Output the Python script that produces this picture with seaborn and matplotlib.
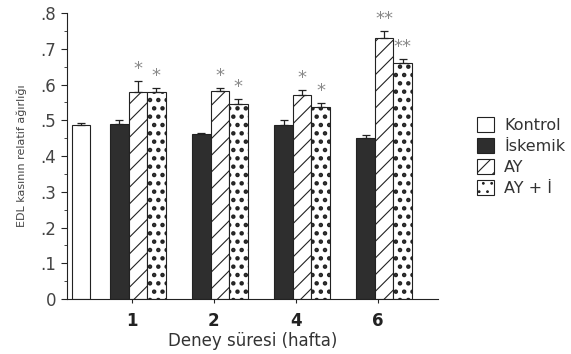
import pandas as pd
import numpy as np
import matplotlib
matplotlib.use('Agg')
import matplotlib.pyplot as plt
import seaborn as sns
from matplotlib.patches import Patch
from matplotlib.ticker import MultipleLocator, FixedLocator

# data
weeks = ['1', '2', '4', '6']
groups = ['Kontrol', 'İskemik', 'AY', 'AY + İ']
kontrol_val = 0.486
kontrol_err = 0.008
iskemik = [0.490, 0.463, 0.488, 0.450]
iskemik_err = [0.010, 0.002, 0.014, 0.010]
ay = [0.578, 0.582, 0.570, 0.730]
ay_err = [0.033, 0.008, 0.014, 0.021]
ay_i = [0.578, 0.547, 0.536, 0.660]
ay_i_err = [0.012, 0.012, 0.012, 0.011]
stars_ay = ['*', '*', '*', '**']
stars_ay_i = ['*', '*', '*', '**']
ytick_labels = ['0', '.1', '.2', '.3', '.4', '.5', '.6', '.7', '.8']

# layout: week groups one unit apart, Kontrol sits alone before them
offsets = {'İskemik': -0.15, 'AY': 0.075, 'AY + İ': 0.30}
rows = [{'pos': 0.38, 'group': 'Kontrol', 'value': kontrol_val, 'err': kontrol_err, 'star': ''}]
for i, w in enumerate(weeks):
    c = i + 1
    rows.append({'pos': c + offsets['İskemik'], 'group': 'İskemik', 'value': iskemik[i], 'err': iskemik_err[i], 'star': ''})
    rows.append({'pos': c + offsets['AY'], 'group': 'AY', 'value': ay[i], 'err': ay_err[i], 'star': stars_ay[i]})
    rows.append({'pos': c + offsets['AY + İ'], 'group': 'AY + İ', 'value': ay_i[i], 'err': ay_i_err[i], 'star': stars_ay_i[i]})
df = pd.DataFrame(rows)

sns.set_style('ticks')
plt.rcParams['font.family'] = ['DejaVu Sans']
plt.rcParams['hatch.linewidth'] = 0.8

fig = plt.figure(figsize=(5.71, 3.54), dpi=100)
ax = fig.add_axes([0.117, 0.155, 0.650, 0.808])

face = {'Kontrol': 'white', 'İskemik': '#2e2e2e', 'AY': 'white', 'AY + İ': 'white'}
hatch = {'Kontrol': '', 'İskemik': '', 'AY': '//', 'AY + İ': '..'}
hatch_lw = {'Kontrol': 0.8, 'İskemik': 0.8, 'AY': 0.8, 'AY + İ': 2.0}

sns.barplot(data=df, x='pos', y='value', hue='group', hue_order=groups,
            palette=face, native_scale=True, dodge=False, width=1.0,
            edgecolor='#222222', linewidth=0.8, errorbar=None, legend=False, ax=ax)

# bar width in data units
for p in ax.patches:
    cx = p.get_x() + p.get_width() / 2
    p.set_width(0.225)
    p.set_x(cx - 0.1125)

# hatches, error bars and significance marks
for p in ax.patches:
    cx = p.get_x() + p.get_width() / 2
    r = df.iloc[(df['pos'] - cx).abs().argmin()]
    p.set_hatch(hatch[r['group']])
    if hasattr(p, 'set_hatch_linewidth'):
        p.set_hatch_linewidth(hatch_lw[r['group']])
    ax.errorbar(cx, r['value'], yerr=[[0], [r['err']]], fmt='none',
                ecolor='#222222', elinewidth=0.9, capsize=3, capthick=0.9)
    if r['star']:
        ax.text(cx, r['value'] + r['err'] + 0.008, r['star'], ha='center', va='bottom',
                fontsize=13, color='#888888')

ax.set_xlim(0.21, 4.73)
ax.set_ylim(0, 0.8)
ax.set_yticks(np.arange(0, 0.81, 0.1), ytick_labels)
ax.yaxis.set_minor_locator(MultipleLocator(0.05))
ax.xaxis.set_major_locator(FixedLocator([1, 2, 3, 4]))
ax.set_xticklabels(weeks, fontsize=12, fontweight='bold', color='#222222')
ax.tick_params(axis='y', labelsize=12, labelcolor='#444444', length=4, direction='out')
ax.tick_params(axis='y', which='minor', length=2)
ax.tick_params(axis='x', length=3, pad=6)
sns.despine(ax=ax)
ax.spines['left'].set_color('#222222')
ax.spines['bottom'].set_color('#222222')

ax.set_xlabel('Deney süresi (hafta)', fontsize=12, color='#333333', labelpad=2)
ax.set_ylabel('EDL kasının relatif ağırlığı', fontsize=8, color='#444444', labelpad=10)

handles = []
for g in groups:
    h = Patch(facecolor=face[g], edgecolor='#222222', hatch=hatch[g], linewidth=0.8)
    if hasattr(h, 'set_hatch_linewidth'):
        h.set_hatch_linewidth(hatch_lw[g])
    handles.append(h)
leg = fig.legend(handles, groups, loc='upper left', bbox_to_anchor=(0.81, 0.71),
                 frameon=False, fontsize=11.5, handlelength=1.1, handleheight=1.1,
                 handletextpad=0.6, labelspacing=0.3)
for t in leg.get_texts():
    t.set_color('#333333')

fig.savefig('out.png', dpi=100)
